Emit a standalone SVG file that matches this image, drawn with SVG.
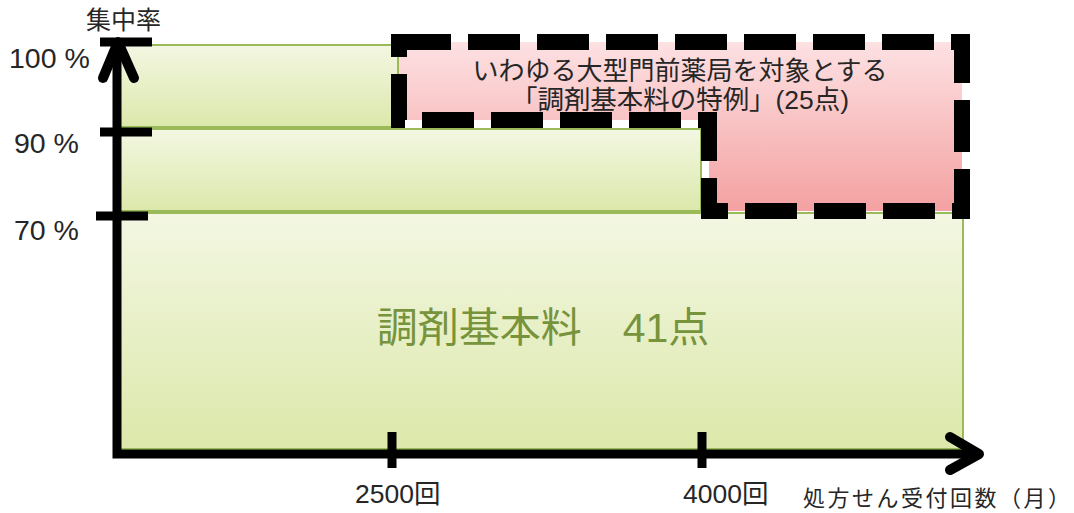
<svg xmlns="http://www.w3.org/2000/svg" width="1074" height="513" viewBox="0 0 1074 513">
<defs>
<linearGradient id="gGreen" x1="0" y1="0" x2="0" y2="1">
<stop offset="0" stop-color="#f3f7e3"/>
<stop offset="1" stop-color="#dce8aa"/>
</linearGradient>
<linearGradient id="gPink" x1="0" y1="0" x2="0" y2="1">
<stop offset="0" stop-color="#fde1e3"/>
<stop offset="1" stop-color="#f4a1a1"/>
</linearGradient>
<style>
.box{fill:url(#gGreen);stroke:#9bbb59;stroke-width:2}
.axis{fill:none;stroke:#000;stroke-width:9}
.head{fill:none;stroke:#000;stroke-width:10;stroke-linecap:round;stroke-linejoin:round}
.tick{stroke:#000;stroke-width:9}
.t{font-family:"Liberation Sans","Noto Sans CJK JP",sans-serif;fill:#262626}
</style>
</defs>
<rect width="1074" height="513" fill="#fff"/>
<g id="base-41">
<rect class="box" x="120" y="213" width="843" height="236"/>
<text class="t" x="543" y="342" font-size="41" text-anchor="middle" style="fill:#77933c">調剤基本料　41点</text>
</g>
<g id="band-90-100">
<rect class="box" x="120" y="45" width="278" height="82"/>
</g>
<g id="band-70-90">
<rect class="box" x="120" y="129" width="581" height="82"/>
</g>
<g id="special-25">
<path d="M399,42 H962 V211 H709 V120 H399 Z" fill="url(#gPink)" stroke="#000" stroke-width="16" stroke-dasharray="52 17" stroke-linejoin="miter"/>
<text class="t" x="680" y="80" font-size="26" text-anchor="middle">いわゆる大型門前薬局を対象とする</text>
<text class="t" x="680" y="109" font-size="26.5" text-anchor="middle" textLength="338" lengthAdjust="spacing">「調剤基本料の特例」(25点)</text>
</g>
<g id="connectors">
<polyline class="axis" points="117,44 117,454 978,454"/>
<polyline class="head" points="103,78 118,42 134,78"/>
<polyline class="head" points="950,437 979,454 950,470"/>
<line class="tick" x1="100" y1="42" x2="152" y2="42"/>
<line class="tick" x1="100" y1="132" x2="152" y2="132"/>
<line class="tick" x1="96" y1="216" x2="148" y2="216"/>
<line class="tick" x1="392" y1="432" x2="392" y2="468"/>
<line class="tick" x1="702" y1="432" x2="702" y2="468"/>
</g>
<g id="labels">
<text class="t" x="86" y="29" font-size="25">集中率</text>
<text class="t" x="9" y="68" font-size="28.5">100 %</text>
<text class="t" x="14" y="153" font-size="28.5">90 %</text>
<text class="t" x="14" y="240" font-size="28.5">70 %</text>
<text class="t" x="355" y="503" font-size="26.5">2500回</text>
<text class="t" x="683" y="503" font-size="26.5">4000回</text>
<text class="t" x="803" y="506" font-size="22" textLength="267" lengthAdjust="spacing">処方せん受付回数（月）</text>
</g>
</svg>
